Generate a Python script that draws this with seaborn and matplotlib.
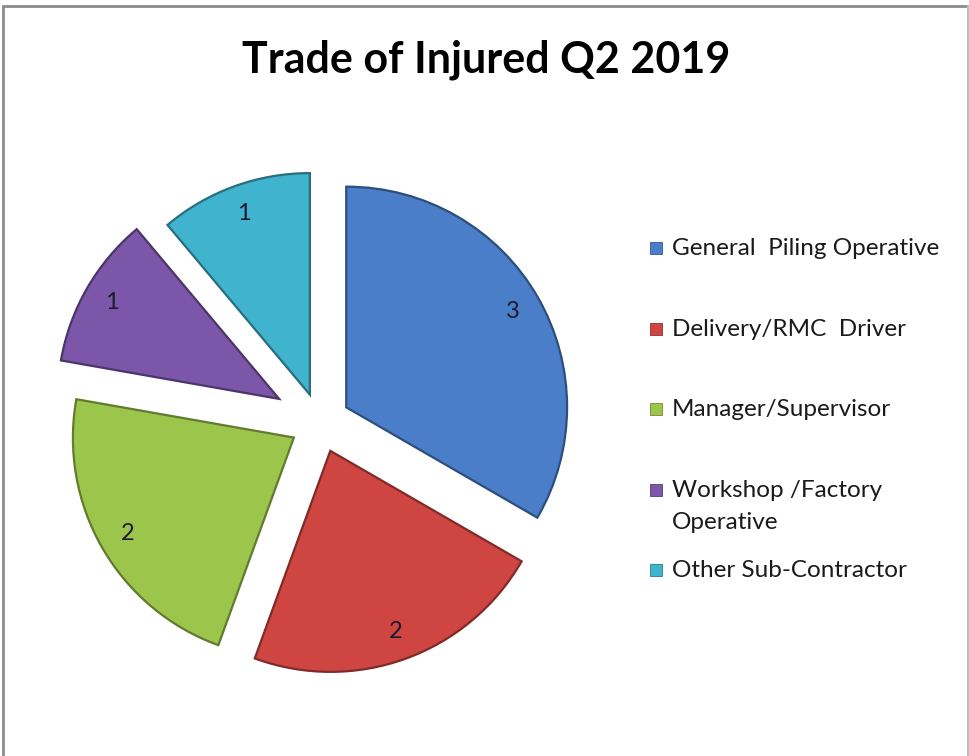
import matplotlib
matplotlib.use("Agg")
import matplotlib.pyplot as plt
import seaborn as sns
from matplotlib.patches import Rectangle
from matplotlib.lines import Line2D
import matplotlib.patheffects as pe

# ---- data ----
categories = ["General  Piling Operative", "Delivery/RMC  Driver", "Manager/Supervisor",
              "Workshop /Factory\nOperative", "Other Sub-Contractor"]
counts = [3, 2, 2, 1, 1]
explode_amounts = [0.14, 0.14, 0.14, 0.22, 0.14]
slice_colors = ["#4a7ec9", "#cf4541", "#9cc64b", "#7b56a9", "#40b3cf"]
title_text = "Trade of Injured Q2 2019"

sns.set_theme(style="white")
fam = ['Lato', 'DejaVu Sans']
plt.rcParams['font.family'] = fam

W, H = 970, 756
fig = plt.figure(figsize=(W / 100, H / 100), dpi=100)
fig.patch.set_facecolor("white")
ax = fig.add_axes([0, 0, 1, 1])

palette = sns.color_palette(slice_colors)
total = sum(counts)
wedges, texts, autotexts = ax.pie(
    counts, explode=explode_amounts, colors=palette, startangle=90,
    counterclock=False,
    autopct=lambda p: f"{round(p * total / 100):d}",
    pctdistance=0.87, radius=1.0,
    wedgeprops=dict(linewidth=1.0),
    textprops=dict(fontsize=17, color="#1b1b2b", family=fam))
for w, c in zip(wedges, palette):
    dark = tuple(x * 0.62 for x in c)
    w.set_edgecolor(dark)
    w.set_path_effects([pe.Stroke(linewidth=2.2, foreground=dark), pe.Normal()])

cx, cy, R = 320, 422.5, 220
ax.set_xlim(-cx / R, (W - cx) / R)
ax.set_ylim(-(H - cy) / R, cy / R)
ax.set_aspect('auto')
ax.axis('off')

# title
fig.text(486 / W, 1 - 60 / H, title_text, ha='center', va='center',
         fontsize=31, fontweight='bold', color='black', family=fam)

# legend (manual, to keep marker on first text line)
for i, (lab, col) in enumerate(zip(categories, palette)):
    y = 248 + 80.5 * i
    fig.add_artist(Rectangle(((650) / W, 1 - (y + 6) / H), 12 / W, 12 / H,
                             transform=fig.transFigure, facecolor=col,
                             edgecolor=tuple(x * 0.7 for x in col), linewidth=0.6))
    fig.text(672 / W, 1 - (y - 10) / H, lab, ha='left', va='top', fontsize=17.5,
             color='#1a1a1a', linespacing=1.65, family=fam)

# frame lines
grey = "#8c8c8c"
fig.add_artist(Line2D([3 / W, 968 / W], [1 - 6 / H, 1 - 6 / H], transform=fig.transFigure, color=grey, lw=2))
fig.add_artist(Line2D([3 / W, 3 / W], [0, 1 - 6 / H], transform=fig.transFigure, color=grey, lw=2))
fig.add_artist(Line2D([968 / W, 968 / W], [0, 1 - 6 / H], transform=fig.transFigure, color="#bdbdbd", lw=1.5))

fig.savefig("out.png", dpi=100, facecolor="white")
